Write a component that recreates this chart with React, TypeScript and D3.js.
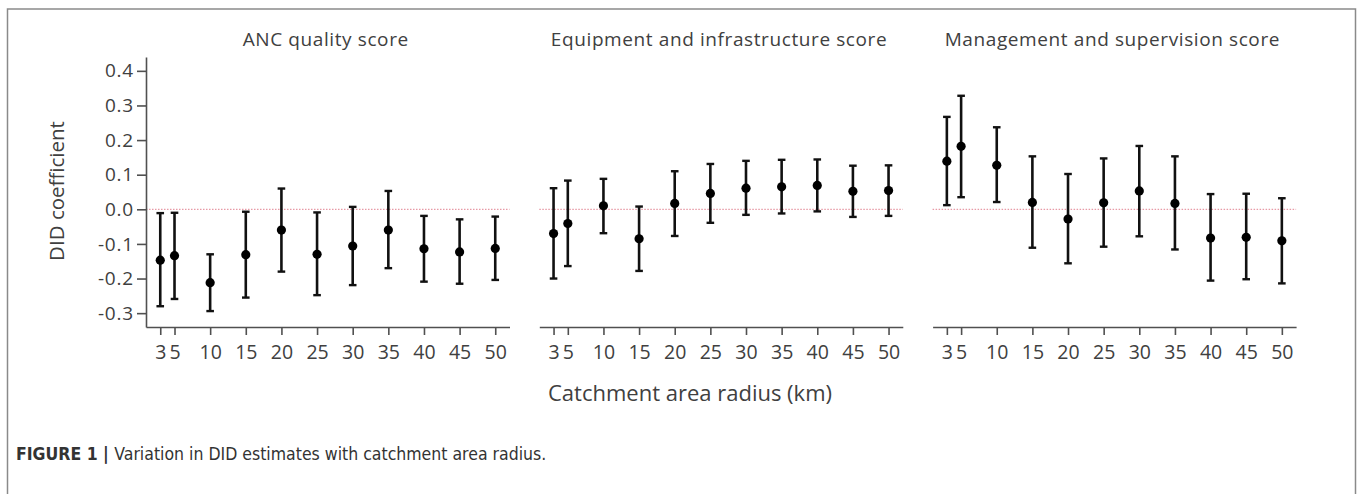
import React, { useEffect, useRef } from 'react';
import * as d3 from 'd3';

const radii = [3, 5, 10, 15, 20, 25, 30, 35, 40, 45, 50];

const panelTitles = [
  'ANC quality score',
  'Equipment and infrastructure score',
  'Management and supervision score'
];

const ancEst = [-0.147, -0.134, -0.212, -0.131, -0.06, -0.13, -0.106, -0.06, -0.114, -0.123, -0.113];
const ancLo = [-0.28, -0.259, -0.294, -0.255, -0.18, -0.248, -0.219, -0.17, -0.209, -0.215, -0.204];
const ancHi = [-0.011, -0.01, -0.13, -0.007, 0.06, -0.009, 0.007, 0.053, -0.019, -0.029, -0.021];

const equipEst = [-0.07, -0.041, 0.01, -0.085, 0.017, 0.046, 0.061, 0.065, 0.069, 0.052, 0.054];
const equipLo = [-0.2, -0.164, -0.069, -0.178, -0.077, -0.039, -0.016, -0.012, -0.006, -0.022, -0.019];
const equipHi = [0.061, 0.083, 0.088, 0.008, 0.11, 0.131, 0.14, 0.143, 0.144, 0.126, 0.127];

const mgmtEst = [0.139, 0.182, 0.127, 0.02, -0.028, 0.019, 0.053, 0.017, -0.083, -0.081, -0.091];
const mgmtLo = [0.012, 0.035, 0.021, -0.111, -0.156, -0.108, -0.078, -0.116, -0.206, -0.202, -0.214];
const mgmtHi = [0.267, 0.328, 0.237, 0.153, 0.102, 0.147, 0.183, 0.153, 0.044, 0.045, 0.032];

const yTicks = [-0.3, -0.2, -0.1, 0.0, 0.1, 0.2, 0.3, 0.4];

interface Point {
  r: number;
  est: number;
  lo: number;
  hi: number;
}

const FONT = '"Open Sans", "DejaVu Sans", sans-serif';
const TEXT = '#404040';

const App: React.FC = () => {
  const svgRef = useRef<SVGSVGElement>(null);

  useEffect(() => {
    if (!svgRef.current) return;
    const svg = d3.select(svgRef.current);
    svg.selectAll('*').remove();

    const width = 1358;
    const height = 494;
    svg.attr('width', width).attr('height', height).attr('viewBox', `0 0 ${width} ${height}`);

    svg.append('rect').attr('width', width).attr('height', height).attr('fill', '#fff');

    // figure frame
    svg
      .append('rect')
      .attr('x', 7.5)
      .attr('y', 9)
      .attr('width', 1348)
      .attr('height', 500)
      .attr('fill', 'none')
      .attr('stroke', '#8a8a8a')
      .attr('stroke-width', 1.5);

    const panels: Point[][] = [
      radii.map((r, i) => ({ r, est: ancEst[i], lo: ancLo[i], hi: ancHi[i] })),
      radii.map((r, i) => ({ r, est: equipEst[i], lo: equipLo[i], hi: equipHi[i] })),
      radii.map((r, i) => ({ r, est: mgmtEst[i], lo: mgmtLo[i], hi: mgmtHi[i] }))
    ];

    const plotTop = 57;
    const plotBottom = 327;
    const firstLeft = 146;
    const panelWidth = 363.5;
    const panelStep = 393.3;

    const x = d3.scaleLinear().domain([1, 52]).range([0, panelWidth]);
    const y = d3.scaleLinear().domain([-0.34, 0.44]).range([plotBottom, plotTop]);
    const fmt = (v: number) => d3.format('.1f')(v).replace('\u2212', '-');

    panels.forEach((data, p) => {
      const g = svg.append('g').attr('transform', `translate(${firstLeft + p * panelStep},0)`);

      // zero reference line
      g.append('line')
        .attr('x1', 0)
        .attr('x2', panelWidth)
        .attr('y1', y(0))
        .attr('y2', y(0))
        .attr('stroke', '#e79aa6')
        .attr('stroke-width', 1.2)
        .attr('stroke-dasharray', '1.5,1.5');

      // x axis
      const xAxis = g
        .append('g')
        .attr('transform', `translate(0,${plotBottom})`)
        .call(
          d3
            .axisBottom(x)
            .tickValues(radii)
            .tickSize(8)
            .tickSizeOuter(0)
            .tickPadding(10)
            .tickFormat((d) => String(d))
        );
      xAxis.select('.domain').attr('stroke', '#505050').attr('stroke-width', 1.6);
      xAxis.selectAll('.tick line').attr('stroke', '#505050').attr('stroke-width', 1.6);
      xAxis
        .selectAll('.tick text')
        .attr('fill', TEXT)
        .attr('font-family', FONT)
        .attr('font-size', 19.5);

      // y axis only on the first panel
      if (p === 0) {
        const yAxis = g
          .append('g')
          .call(
            d3
              .axisLeft(y)
              .tickValues(yTicks)
              .tickSize(9)
              .tickSizeOuter(0)
              .tickPadding(3)
              .tickFormat((d) => fmt(d as number))
          );
        yAxis.select('.domain').attr('stroke', '#505050').attr('stroke-width', 1.6);
        yAxis.selectAll('.tick line').attr('stroke', '#505050').attr('stroke-width', 1.6);
        yAxis
          .selectAll('.tick text')
          .attr('fill', TEXT)
          .attr('font-family', FONT)
          .attr('font-size', 19)
          .attr('letter-spacing', 0.8);
      }

      // error bars
      const bars = g.append('g').selectAll('g').data(data).enter().append('g');
      bars
        .append('line')
        .attr('x1', (d) => x(d.r))
        .attr('x2', (d) => x(d.r))
        .attr('y1', (d) => y(d.lo))
        .attr('y2', (d) => y(d.hi))
        .attr('stroke', '#111')
        .attr('stroke-width', 2.6);
      ['lo', 'hi'].forEach((k) => {
        bars
          .append('line')
          .attr('x1', (d) => x(d.r) - 3.8)
          .attr('x2', (d) => x(d.r) + 3.8)
          .attr('y1', (d) => y(d[k as 'lo' | 'hi']))
          .attr('y2', (d) => y(d[k as 'lo' | 'hi']))
          .attr('stroke', '#111')
          .attr('stroke-width', 2.4);
      });
      bars
        .append('circle')
        .attr('cx', (d) => x(d.r))
        .attr('cy', (d) => y(d.est))
        .attr('r', 4.6)
        .attr('fill', '#000');

      // panel title
      g.append('text')
        .attr('x', panelWidth / 2 - 2)
        .attr('y', 46)
        .attr('text-anchor', 'middle')
        .attr('fill', TEXT)
        .attr('font-family', FONT)
        .attr('font-size', 19)
        .attr('letter-spacing', 0.6)
        .text(panelTitles[p]);
    });

    // y axis label
    svg
      .append('text')
      .attr('transform', `translate(64,191) rotate(-90)`)
      .attr('text-anchor', 'middle')
      .attr('fill', TEXT)
      .attr('font-family', FONT)
      .attr('font-size', 20.5)
      .text('DID coefficient');

    // x axis label
    svg
      .append('text')
      .attr('x', 690)
      .attr('y', 401)
      .attr('text-anchor', 'middle')
      .attr('fill', TEXT)
      .attr('font-family', FONT)
      .attr('font-size', 22)
      .text('Catchment area radius (km)');

    // caption
    const caption = svg
      .append('text')
      .attr('x', 16)
      .attr('y', 460)
      .attr('fill', '#333')
      .attr('font-family', '"Liberation Sans Narrow", "DejaVu Sans Condensed", sans-serif')
      .attr('font-size', 17.5);
    caption.append('tspan').attr('font-weight', 700).text('FIGURE 1 | ');
    caption.append('tspan').text('Variation in DID estimates with catchment area radius.');
  }, []);

  return <svg ref={svgRef} style={{ position: 'absolute', left: 0, top: 0 }} />;
};

export default App;
